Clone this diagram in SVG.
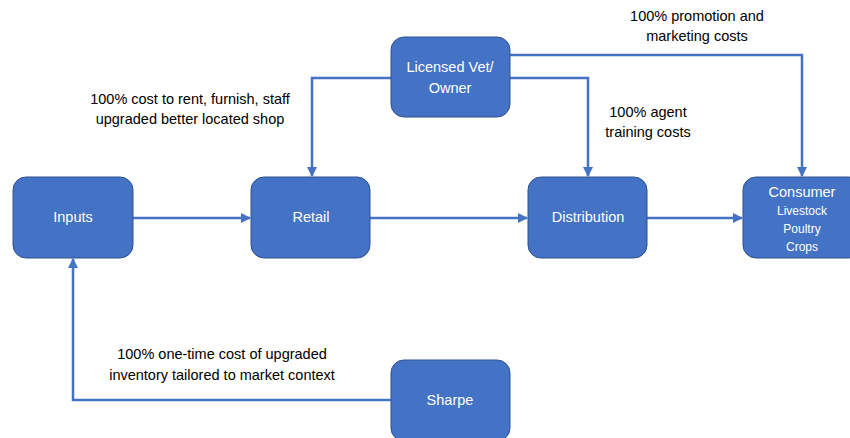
<svg xmlns="http://www.w3.org/2000/svg" width="850" height="438" viewBox="0 0 850 438">
<style>
.box{fill:#4472C4;stroke:#2F528F;stroke-width:1}
.bt{fill:#fff;font-family:"Liberation Sans",Arial,sans-serif;font-size:14.5px;text-anchor:middle;dominant-baseline:middle}
.sm{font-size:12px}
.lb{fill:#000;font-family:"Liberation Sans",Arial,sans-serif;font-size:14.5px;text-anchor:middle;dominant-baseline:middle}
.c{fill:none;stroke:#4472C4;stroke-width:2.5;marker-end:url(#ah)}
</style>
<defs>
<marker id="ah" viewBox="0 0 10 10" refX="9" refY="5" markerWidth="4" markerHeight="4" orient="auto" markerUnits="strokeWidth">
<path d="M0,0 L10,5 L0,10 z" fill="#4472C4"/>
</marker>
</defs>
<rect width="850" height="438" fill="#fff"/>
<g id="connectors">
<path class="c" d="M133,218 H250"/>
<path class="c" d="M370,218 H527"/>
<path class="c" d="M647,218 H742"/>
<path class="c" d="M391,78 H312 V176"/>
<path class="c" d="M510,78 H588 V176"/>
<path class="c" d="M510,55 H802 V176"/>
<path class="c" d="M391,400 H73 V259"/>
</g>
<g id="labels">
<text class="lb" x="190" y="100">100% cost to rent, furnish, staff</text>
<text class="lb" x="190" y="120">upgraded better located shop</text>
<text class="lb" x="697" y="17">100% promotion and</text>
<text class="lb" x="697" y="37">marketing costs</text>
<text class="lb" x="648" y="113">100% agent</text>
<text class="lb" x="648" y="133">training costs</text>
<text class="lb" x="222" y="355">100% one-time cost of upgraded</text>
<text class="lb" x="222" y="376">inventory tailored to market context</text>
</g>
<g id="inputs">
<rect class="box" x="13" y="177" width="120" height="81" rx="13"/>
<text class="bt" x="73" y="218">Inputs</text>
</g>
<g id="retail">
<rect class="box" x="251" y="177" width="119" height="81" rx="13"/>
<text class="bt" x="311" y="218">Retail</text>
</g>
<g id="distribution">
<rect class="box" x="528" y="177" width="119" height="81" rx="13"/>
<text class="bt" x="588" y="218">Distribution</text>
</g>
<g id="consumer">
<rect class="box" x="743" y="177" width="119" height="81" rx="13"/>
<text class="bt" x="802" y="193">Consumer</text>
<text class="bt sm" x="802" y="212">Livestock</text>
<text class="bt sm" x="802" y="230">Poultry</text>
<text class="bt sm" x="802" y="248">Crops</text>
</g>
<g id="vet">
<rect class="box" x="391" y="37" width="119" height="80" rx="13"/>
<text class="bt" x="450" y="68">Licensed Vet/</text>
<text class="bt" x="450" y="89">Owner</text>
</g>
<g id="sharpe">
<rect class="box" x="391" y="360" width="119" height="81" rx="13"/>
<text class="bt" x="450" y="401">Sharpe</text>
</g>
</svg>
